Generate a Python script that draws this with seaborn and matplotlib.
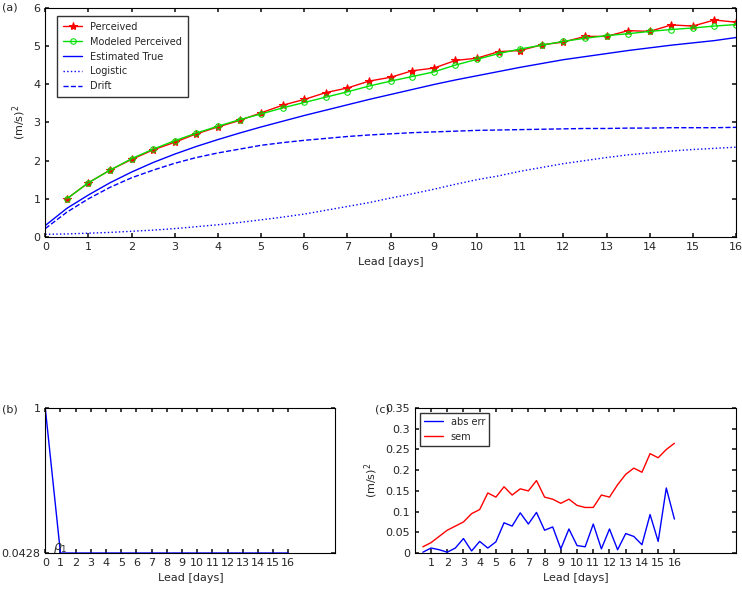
import numpy as np
import matplotlib.pyplot as plt
import seaborn as sns

sns.set_theme(style="white")
plt.rcParams['font.family'] = ['DejaVu Sans']

# panel (a)
lead_half = np.arange(0.5, 16.01, 0.5)
lead_full = np.arange(0, 16.01, 0.5)
perceived = [1.0, 1.42, 1.75, 2.03, 2.28, 2.48, 2.7, 2.88, 3.05, 3.25, 3.45, 3.6, 3.78, 3.9, 4.08, 4.18,
             4.35, 4.42, 4.62, 4.68, 4.85, 4.88, 5.03, 5.1, 5.25, 5.25, 5.4, 5.38, 5.55, 5.52, 5.68, 5.62]
modeled = [1.0, 1.42, 1.75, 2.05, 2.3, 2.52, 2.72, 2.9, 3.07, 3.22, 3.38, 3.52, 3.66, 3.8, 3.95, 4.08,
           4.2, 4.32, 4.5, 4.65, 4.8, 4.92, 5.02, 5.12, 5.2, 5.27, 5.32, 5.38, 5.43, 5.47, 5.52, 5.56]
est_true = [0.3, 0.75, 1.1, 1.42, 1.7, 1.95, 2.17, 2.37, 2.55, 2.72, 2.88, 3.03, 3.18, 3.32, 3.46, 3.6, 3.73,
            3.86, 3.99, 4.11, 4.22, 4.33, 4.44, 4.54, 4.64, 4.72, 4.8, 4.88, 4.95, 5.02, 5.08, 5.14, 5.22]
logistic = [0.07, 0.08, 0.1, 0.12, 0.15, 0.18, 0.22, 0.27, 0.32, 0.38, 0.45, 0.52, 0.6, 0.7, 0.8, 0.9, 1.02,
            1.13, 1.25, 1.38, 1.5, 1.6, 1.72, 1.82, 1.92, 2.0, 2.08, 2.15, 2.2, 2.25, 2.29, 2.32, 2.35]
drift = [0.22, 0.65, 1.0, 1.3, 1.55, 1.75, 1.93, 2.08, 2.2, 2.3, 2.4, 2.47, 2.53, 2.58, 2.63, 2.67, 2.7,
         2.73, 2.75, 2.77, 2.79, 2.8, 2.81, 2.82, 2.83, 2.84, 2.84, 2.85, 2.85, 2.86, 2.86, 2.86, 2.87]

# panel (b)
lag = np.arange(0, 17)
rho = [1.0] + [0.0428] * 16

# panel (c)
sem = [0.015, 0.025, 0.04, 0.055, 0.065, 0.075, 0.095, 0.105, 0.145, 0.135, 0.16, 0.14, 0.155, 0.15, 0.175, 0.135,
       0.13, 0.12, 0.13, 0.115, 0.11, 0.11, 0.14, 0.135, 0.165, 0.19, 0.205, 0.195, 0.24, 0.23, 0.25, 0.265]
abs_err = [0.002, 0.012, 0.008, 0.002, 0.012, 0.035, 0.005, 0.028, 0.012, 0.027, 0.073, 0.065, 0.097, 0.07, 0.098, 0.055,
           0.063, 0.01, 0.058, 0.018, 0.015, 0.07, 0.01, 0.058, 0.008, 0.047, 0.04, 0.02, 0.093, 0.028, 0.157, 0.082]

fig = plt.figure(figsize=(7.42, 5.94), dpi=100)
ax1 = fig.add_axes([0.061, 0.601, 0.931, 0.386])
ax2 = fig.add_axes([0.061, 0.069, 0.391, 0.244])
ax3 = fig.add_axes([0.559, 0.069, 0.433, 0.244])

for ax in (ax1, ax2, ax3):
    for s in ax.spines.values():
        s.set_color('black')
        s.set_linewidth(0.8)
    ax.tick_params(direction='in', length=3, labelsize=8, bottom=True, left=True, top=True, right=True,
                   labeltop=False, labelright=False)

sns.lineplot(x=lead_half, y=perceived, ax=ax1, color='red', marker='*', markersize=6, mec='red',
             lw=1, label='Perceived')
sns.lineplot(x=lead_half, y=modeled, ax=ax1, color='#00e000', marker='o', markersize=4, mfc='none',
             mec='#00e000', lw=1, label='Modeled Perceived')
sns.lineplot(x=lead_full, y=est_true, ax=ax1, color='blue', lw=1, label='Estimated True')
sns.lineplot(x=lead_full, y=logistic, ax=ax1, color='blue', lw=1, ls=':', label='Logistic')
sns.lineplot(x=lead_full, y=drift, ax=ax1, color='blue', lw=1, ls='--', label='Drift')
ax1.set_xlim(0, 16)
ax1.set_ylim(0, 6)
ax1.set_xticks(range(0, 17))
ax1.set_xlabel('Lead [days]', fontsize=8)
ax1.set_ylabel('(m/s)$^2$', fontsize=8)
ax1.legend(loc='upper left', fontsize=7, frameon=True, edgecolor='black', fancybox=False,
           bbox_to_anchor=(0.01, 0.985), borderpad=0.6)
fig.text(0.003, 0.982, '(a)', fontsize=8)

sns.lineplot(x=lag, y=rho, ax=ax2, color='blue', lw=1)
ax2.set_xlim(0, 19.1)
ax2.set_ylim(0.0428, 1)
ax2.set_yticks([0.0428, 1])
ax2.set_yticklabels(['0.0428', '1'])
ax2.set_xticks(range(0, 17))
ax2.set_xlabel('Lead [days]', fontsize=8)
ax2.text(0.5, 0.06, r'$\rho_1$', fontsize=9)
fig.text(0.003, 0.305, '(b)', fontsize=8)

sns.lineplot(x=lead_half, y=abs_err, ax=ax3, color='blue', lw=1, label='abs err')
sns.lineplot(x=lead_half, y=sem, ax=ax3, color='red', lw=1, label='sem')
ax3.set_xlim(0, 19.8)
ax3.set_ylim(0, 0.35)
ax3.set_yticks([0, 0.05, 0.1, 0.15, 0.2, 0.25, 0.3, 0.35])
ax3.set_yticklabels(['0', '0.05', '0.1', '0.15', '0.2', '0.25', '0.3', '0.35'])
ax3.set_xticks(range(1, 17))
ax3.set_xlabel('Lead [days]', fontsize=8)
ax3.set_ylabel('(m/s)$^2$', fontsize=8)
ax3.legend(loc='upper left', fontsize=7, frameon=True, edgecolor='black', fancybox=False)
fig.text(0.505, 0.305, '(c)', fontsize=8)

fig.savefig('out.png', dpi=100)
